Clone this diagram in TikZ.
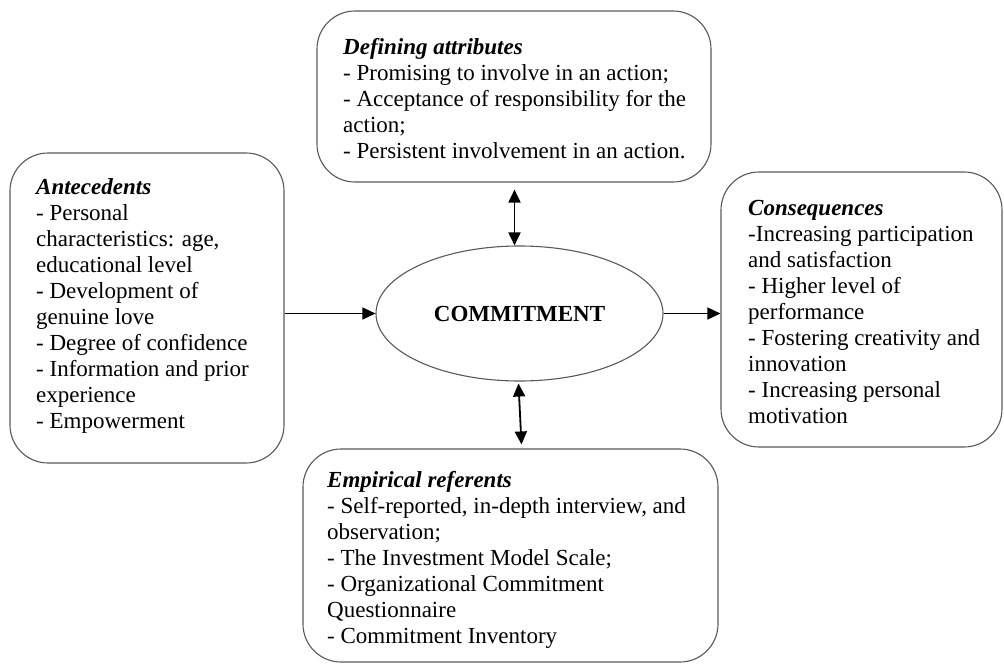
\documentclass[tikz,border=0pt]{standalone}
\usepackage{fontspec}
\setmainfont{Liberation Serif}
\usepackage{tikz}
\usetikzlibrary{shapes.geometric,arrows.meta}

\tikzset{
    panel/.style={draw=black!65, line width=1.1pt, rounded corners=38pt, inner sep=0pt},
    itemtext/.style={align=left, inner sep=0pt, anchor=west, font=\fontsize{23}{26}\selectfont},
    link/.style={line width=1.5pt, -{Triangle[length=13pt,width=12pt]}},
    twoway/.style={line width=1.8pt, {Triangle[length=13pt,width=12pt]}-{Triangle[length=13pt,width=12pt]}}
}

\begin{document}
\begin{tikzpicture}[x=1pt,y=-1pt]
            %\draw[help lines,step=50] (0,0) grid (1004,666);
            \useasboundingbox (0,0) rectangle (1004,666);

            \node[panel, minimum width=274pt, minimum height=310pt] (ante) at (147,308) {};
            \node[panel, minimum width=394pt, minimum height=171pt] (attr) at (514,96.5) {};
            \node[panel, minimum width=281pt, minimum height=275pt] (cons) at (861.5,309.5) {};
            \node[panel, minimum width=415pt, minimum height=213pt] (refs) at (510.5,555.5) {};

            \node[draw=black!65, line width=1.1pt, ellipse, minimum width=287pt, minimum height=135pt,
                  inner sep=0pt, font=\bfseries\fontsize{23}{26}\selectfont] (core) at (519.5,313.5) {COMMITMENT};

            \node[itemtext] (antetext) at (36,306) {\textbf{\textit{Antecedents}}\\
                - Personal\\ characteristics: age,\\ educational level\\
                - Development of\\ genuine love\\ - Degree of confidence\\
                - Information and prior\\ experience\\ - Empowerment};
            \node[itemtext] (attrtext) at (343,99) {\textbf{\textit{Defining attributes}}\\
                - Promising to involve in an action;\\
                - Acceptance of responsibility for the\\ action;\\
                - Persistent involvement in an action.};
            \node[itemtext] (constext) at (748,312) {\textbf{\textit{Consequences}}\\
                -Increasing participation\\ and satisfaction\\
                - Higher level of\\ performance\\
                - Fostering creativity and\\ innovation\\
                - Increasing personal\\ motivation};
            \node[itemtext] (refstext) at (327,560) {\textbf{\textit{Empirical referents}}\\
                - Self-reported, in-depth interview, and\\ observation;\\
                - The Investment Model Scale;\\
                - Organizational Commitment\\ Questionnaire\\
                - Commitment Inventory};

            \draw[link] (ante.east |- core.west) -- (core.west);
            \draw[link] (core.east) -- (core.east -| cons.west);
            \draw[twoway] ([xshift=-5pt,yshift=-7pt]core.north |- attr.south) -- ([xshift=-5pt]core.north);
            \draw[twoway] ([xshift=-1pt,yshift=-2pt]core.south) -- ([xshift=2pt,yshift=4pt]core.south |- refs.north);

        \end{tikzpicture}
\end{document}
